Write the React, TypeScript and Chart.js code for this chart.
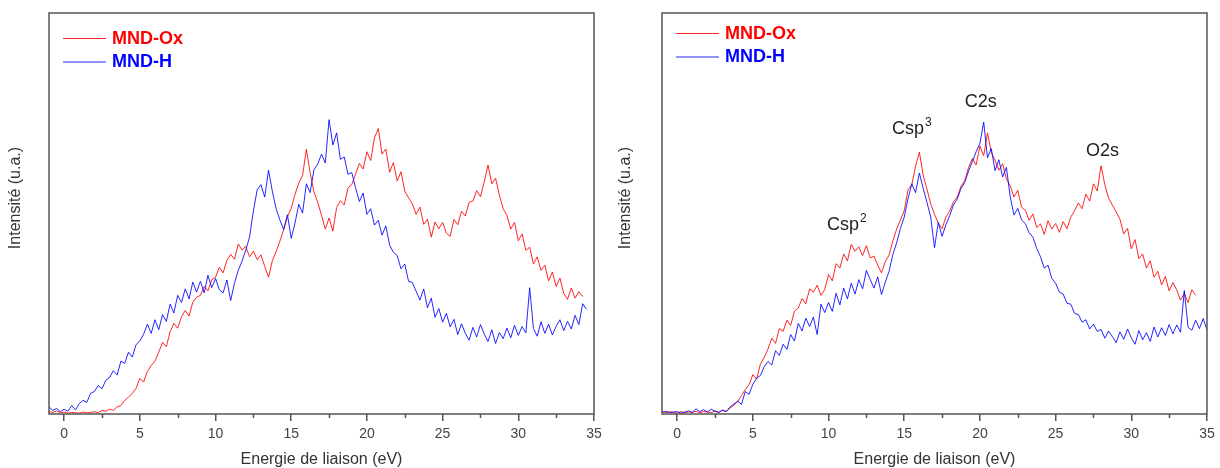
import React, { useEffect, useRef } from "react";
import { Chart, registerables } from "chart.js";

Chart.register(...registerables);

// ---------- data ----------
const energyStart = -1; // eV, first sample
const energyStep = 0.25; // eV between samples

const xTickValues = [0, 5, 10, 15, 20, 25, 30, 35];
const minorTickValues = [2.5, 7.5, 12.5, 17.5, 22.5, 27.5, 32.5];

const seriesNames = ["MND-Ox", "MND-H"];
const xTitle = "Energie de liaison (eV)";
const yTitle = "Intensité (u.a.)";

// left panel
const leftOx = [
  0.6, 0.4, 0.8, 0.3, 0.5, 0.2, 0.4, 0.3, 0.2, 0.5, 0.3, 0.4, 0.6, 0.3, 0.9, 0.7,
  1.2, 0.9, 1.8, 2.1, 3.4, 4.2, 5.1, 6.4, 8.9, 8.0, 10.6, 12.1, 13.2, 15.4, 17.9, 16.8,
  20.5, 22.6, 21.4, 24.2, 25.8, 24.4, 27.9, 29.1, 29.6, 31.8, 30.7, 33.5, 34.1, 36.6, 35.2, 38.3,
  39.8, 38.6, 42.4, 40.9, 41.8, 39.2, 40.6, 38.5, 39.7, 36.8, 34.1, 38.2, 40.5, 43.1, 45.9, 49.2,
  51.3, 54.8, 57.6, 59.5, 66.0, 60.1, 55.4, 52.8, 49.6, 46.1, 48.9, 45.6, 51.5, 53.2, 52.1, 56.4,
  57.2, 59.8, 62.5, 61.1, 65.4, 63.2, 68.9, 71.2, 64.8, 66.1, 60.3, 62.7, 58.1, 60.4, 55.6, 53.9,
  52.4, 49.8, 51.6, 47.3, 48.6, 44.1, 47.9, 46.2, 47.8, 45.1, 44.3, 48.5, 47.2, 50.6, 49.4, 52.8,
  53.1, 55.7, 54.2, 57.9, 62.1, 57.4, 58.8, 54.6, 51.2, 49.5, 46.1, 47.8, 43.2, 44.9, 40.8, 41.6,
  37.4, 39.2, 35.8, 37.1, 33.2, 35.4, 31.8, 33.9, 30.1, 28.6, 31.4, 28.9, 30.5, 29.3,
];
const leftH = [
  1.8, 0.9, 1.4, 0.6, 1.2, 0.7, 2.1, 1.0, 2.6, 3.4, 2.9, 5.2, 5.6, 7.1, 6.3, 8.4,
  9.1, 10.8, 9.7, 13.2, 12.6, 15.4, 14.2, 17.3, 18.2, 19.9, 22.4, 20.1, 23.5, 21.0, 24.8, 23.1,
  27.4, 25.2, 29.6, 27.8, 31.2, 28.7, 32.9, 30.4, 33.1, 30.2, 34.6, 31.5, 33.8, 31.0, 30.2, 33.4,
  28.3, 32.6, 35.8, 38.1, 40.9, 44.2, 50.6, 55.9, 57.2, 54.1, 60.8, 55.6, 51.2, 48.4, 46.0, 49.7,
  43.8, 47.6, 52.3, 50.1, 57.4, 55.2, 60.9, 62.3, 64.8, 62.6, 73.4, 67.1, 70.1, 63.5, 64.1, 59.8,
  60.2, 56.4, 53.0, 55.1, 49.8, 51.2, 47.1, 48.3, 44.6, 46.9, 42.1, 40.3, 39.5, 36.2, 37.4, 33.1,
  32.8, 30.6, 28.4, 31.2, 26.5, 28.9, 24.1, 26.3, 22.9, 25.1, 21.7, 23.6, 19.8, 22.5, 20.1, 18.4,
  21.6, 19.2, 22.3, 19.9, 18.1, 21.0, 17.6, 20.3, 18.8, 21.4, 19.0, 22.1, 19.6, 21.8, 20.2, 31.5,
  21.3, 19.4, 23.0, 20.1, 22.4, 19.7, 21.9, 23.5, 20.8, 23.1, 21.2, 24.6, 22.3, 27.5, 26.1,
];

// right panel
const rightOx = [
  0.7, 0.3, 0.6, 0.4, 0.2, 0.6, 0.3, 0.5, 0.4, 0.7, 0.3, 0.6, 0.5, 0.3, 0.8, 0.4,
  0.9, 0.6, 1.5, 2.2, 3.1, 4.6, 6.1, 7.3, 9.8, 8.7, 12.4, 14.1, 16.2, 18.9, 17.6, 21.3,
  20.6, 23.4, 22.1, 25.7, 26.4, 28.8, 27.5, 31.2, 30.4, 32.1, 29.6, 31.0, 34.8, 33.2, 37.5, 36.4,
  39.9, 38.2, 42.3, 40.6, 41.7, 39.5, 42.0, 38.9, 39.4, 37.1, 35.2, 38.0, 39.6, 43.2, 46.1, 48.4,
  50.7, 55.9, 57.2, 61.8, 65.3, 59.6, 56.1, 52.4, 49.8, 47.5, 46.2, 49.1, 50.6, 52.9, 54.1, 56.8,
  58.2, 61.5, 63.7, 62.1, 66.8, 64.4, 70.1, 65.2, 63.3, 60.8, 62.4, 58.6, 56.9, 54.1, 55.8, 51.6,
  50.8, 48.3, 49.9, 46.5, 47.4, 44.8, 48.2, 46.1, 47.5, 45.3, 48.0, 46.2, 49.1, 50.7, 52.6, 51.2,
  54.8, 53.1, 57.4, 55.6, 61.9, 57.2, 53.8, 52.1, 50.4, 48.6, 44.9, 46.3, 41.2, 43.5, 38.7, 39.9,
  36.4, 38.2, 34.1, 35.6, 32.2, 34.3, 30.7, 32.8, 30.9, 28.4, 30.1, 27.8, 31.0, 29.6,
];
const rightH = [
  0.4, 0.7, 0.3, 0.5, 0.6, 0.2, 0.5, 0.8, 0.4, 1.3, 0.6, 1.1, 0.5, 1.2, 0.7, 0.4,
  1.0, 0.6, 1.8, 2.5, 3.2, 2.4, 5.6, 4.9, 7.4, 8.9, 9.6, 11.8, 13.1, 12.2, 15.8, 14.6,
  17.4, 16.1, 19.8, 18.2, 22.6, 20.7, 23.9, 21.8, 24.2, 19.8, 27.4, 25.3, 27.8, 25.6, 30.1, 27.2,
  31.4, 28.7, 32.6, 29.9, 33.5, 31.2, 35.8, 33.6, 31.4, 34.2, 29.8, 32.9, 35.6, 39.8, 42.7, 46.3,
  49.1, 53.7, 57.4, 55.2, 60.1, 56.3, 52.8, 49.1, 41.5, 47.8, 44.3, 47.2, 49.4, 52.1, 53.6, 56.2,
  57.8, 60.6, 62.9, 65.4, 67.5, 72.8, 63.9, 66.2, 60.7, 63.4, 59.1, 61.5, 54.2, 49.6, 51.3, 48.4,
  47.5, 45.2, 44.1, 41.3, 39.2, 36.4, 37.1, 33.8, 32.6, 30.4, 29.9, 27.6, 27.4, 25.1, 24.8, 22.9,
  23.5, 21.2, 22.4, 20.6, 21.1, 18.9, 20.7, 19.3, 17.8, 20.5, 18.6, 21.2, 19.0, 17.4, 20.8, 18.5,
  20.3, 18.1, 21.7, 19.2, 21.5, 19.6, 22.3, 20.0, 22.2, 20.4, 30.8, 21.6, 20.9, 23.4, 21.3, 23.8,
  20.9,
];

// peak annotations (right panel), anchored in data units
const peakNames = ["Csp", "Csp", "C2s", "O2s"];
const peakSups = ["2", "3", "", ""];
const peakEnergies = [9.9, 14.2, 19.0, 27.0];
const peakLevels = [46.0, 69.8, 76.6, 64.4];

// ---------- styling ----------
const FONT = '"Liberation Sans", Arial, Helvetica, sans-serif';
const RED = "rgba(255,0,0,0.85)";
const BLUE = "rgba(0,0,255,0.85)";
const AXIS = "#555555";
const TEXT = "#333333";

type PanelProps = {
  ox: number[];
  h: number[];
  yAxisWidth: number;
  rightPad: number;
  legendY: number;
  annotate: boolean;
};

const toPoints = (arr: number[]) =>
  arr.map((v, i) => ({ x: energyStart + i * energyStep, y: v }));

function Panel({ ox, h, yAxisWidth, rightPad, legendY, annotate }: PanelProps) {
  const ref = useRef<HTMLCanvasElement | null>(null);

  useEffect(() => {
    if (!ref.current) return;

    const decor = {
      id: "decor",
      afterDraw(chart: any) {
        const { ctx, chartArea: a, scales } = chart;
        const xs = scales.x;
        const ys = scales.y;
        ctx.save();
        // frame
        ctx.strokeStyle = AXIS;
        ctx.lineWidth = 1.5;
        ctx.strokeRect(a.left, a.top, a.right - a.left, a.bottom - a.top);
        // minor ticks
        ctx.beginPath();
        minorTickValues.forEach((v) => {
          const px = Math.round(xs.getPixelForValue(v)) + 0.5;
          ctx.moveTo(px, a.bottom);
          ctx.lineTo(px, a.bottom + 4);
        });
        ctx.stroke();
        ctx.restore();

        // y title
        ctx.save();
        ctx.fillStyle = TEXT;
        ctx.font = `16px ${FONT}`;
        ctx.translate(16, 198);
        ctx.rotate(-Math.PI / 2);
        ctx.textAlign = "center";
        ctx.textBaseline = "middle";
        ctx.fillText(yTitle, 0, 0);
        ctx.restore();

        // legend
        ctx.save();
        const colors = [RED, BLUE];
        const textColors = ["#ff0000", "#0000ff"];
        seriesNames.forEach((name, i) => {
          const y = legendY + i * 23.5;
          ctx.strokeStyle = colors[i];
          ctx.lineWidth = 1;
          ctx.beginPath();
          ctx.moveTo(a.left + 14, y + 0.5);
          ctx.lineTo(a.left + 57, y + 0.5);
          ctx.stroke();
          ctx.fillStyle = textColors[i];
          ctx.font = `bold 18px ${FONT}`;
          ctx.textAlign = "left";
          ctx.textBaseline = "middle";
          ctx.fillText(name, a.left + 63, y + 1);
        });
        ctx.restore();

        // peak annotations
        if (annotate) {
          ctx.save();
          ctx.fillStyle = "#222222";
          ctx.textAlign = "left";
          ctx.textBaseline = "alphabetic";
          peakNames.forEach((name, i) => {
            const px = xs.getPixelForValue(peakEnergies[i]);
            const py = ys.getPixelForValue(peakLevels[i]);
            ctx.font = `18px ${FONT}`;
            ctx.fillText(name, px, py);
            if (peakSups[i]) {
              const w = ctx.measureText(name).width;
              ctx.font = `12px ${FONT}`;
              ctx.fillText(peakSups[i], px + w + 1, py - 8);
            }
          });
          ctx.restore();
        }
      },
    };

    const chart = new Chart(ref.current, {
      type: "line",
      data: {
        datasets: [
          {
            label: seriesNames[0],
            data: toPoints(ox),
            borderColor: RED,
            borderWidth: 1,
            pointRadius: 0,
            tension: 0,
            fill: false,
            order: 1,
          },
          {
            label: seriesNames[1],
            data: toPoints(h),
            borderColor: BLUE,
            borderWidth: 1,
            pointRadius: 0,
            tension: 0,
            fill: false,
            order: 0,
          },
        ],
      },
      options: {
        responsive: false,
        animation: false,
        devicePixelRatio: 1,
        layout: { padding: { left: 0, right: rightPad, top: 13, bottom: 0 } },
        plugins: {
          legend: { display: false },
          tooltip: { enabled: false },
        },
        events: [],
        scales: {
          x: {
            type: "linear",
            min: -1,
            max: 35,
            afterFit: (s: any) => {
              s.height = 54;
            },
            afterBuildTicks: (s: any) => {
              s.ticks = xTickValues.map((v) => ({ value: v }));
            },
            ticks: {
              stepSize: 5,
              includeBounds: false,
              maxRotation: 0,
              autoSkip: false,
              padding: 5,
              color: "#444444",
              font: { family: FONT, size: 14 },
            },
            grid: {
              display: true,
              drawOnChartArea: false,
              drawTicks: true,
              tickLength: 7,
              color: AXIS,
              lineWidth: 1.5,
            },
            border: { display: false },
            title: {
              display: true,
              text: xTitle,
              color: TEXT,
              font: { family: FONT, size: 16, lineHeight: 1 },
              padding: { top: 0, bottom: 0 },
            },
          },
          y: {
            type: "linear",
            min: 0,
            max: 100,
            afterFit: (s: any) => {
              s.width = yAxisWidth;
            },
            ticks: { display: false },
            grid: { display: false },
            border: { display: false },
            title: { display: false },
          },
        },
      },
      plugins: [decor],
    });

    return () => chart.destroy();
  }, [ox, h, yAxisWidth, rightPad, legendY, annotate]);

  return (
    <canvas
      ref={ref}
      width={610}
      height={468}
      style={{ width: 610, height: 468, display: "block" }}
    />
  );
}

export default function App() {
  return (
    <div
      style={{
        position: "absolute",
        left: 0,
        top: 0,
        width: 1220,
        height: 468,
        display: "flex",
        background: "#ffffff",
      }}
    >
      <Panel ox={leftOx} h={leftH} yAxisWidth={49} rightPad={16} legendY={38} annotate={false} />
      <Panel ox={rightOx} h={rightH} yAxisWidth={52} rightPad={13} legendY={33} annotate={true} />
    </div>
  );
}
